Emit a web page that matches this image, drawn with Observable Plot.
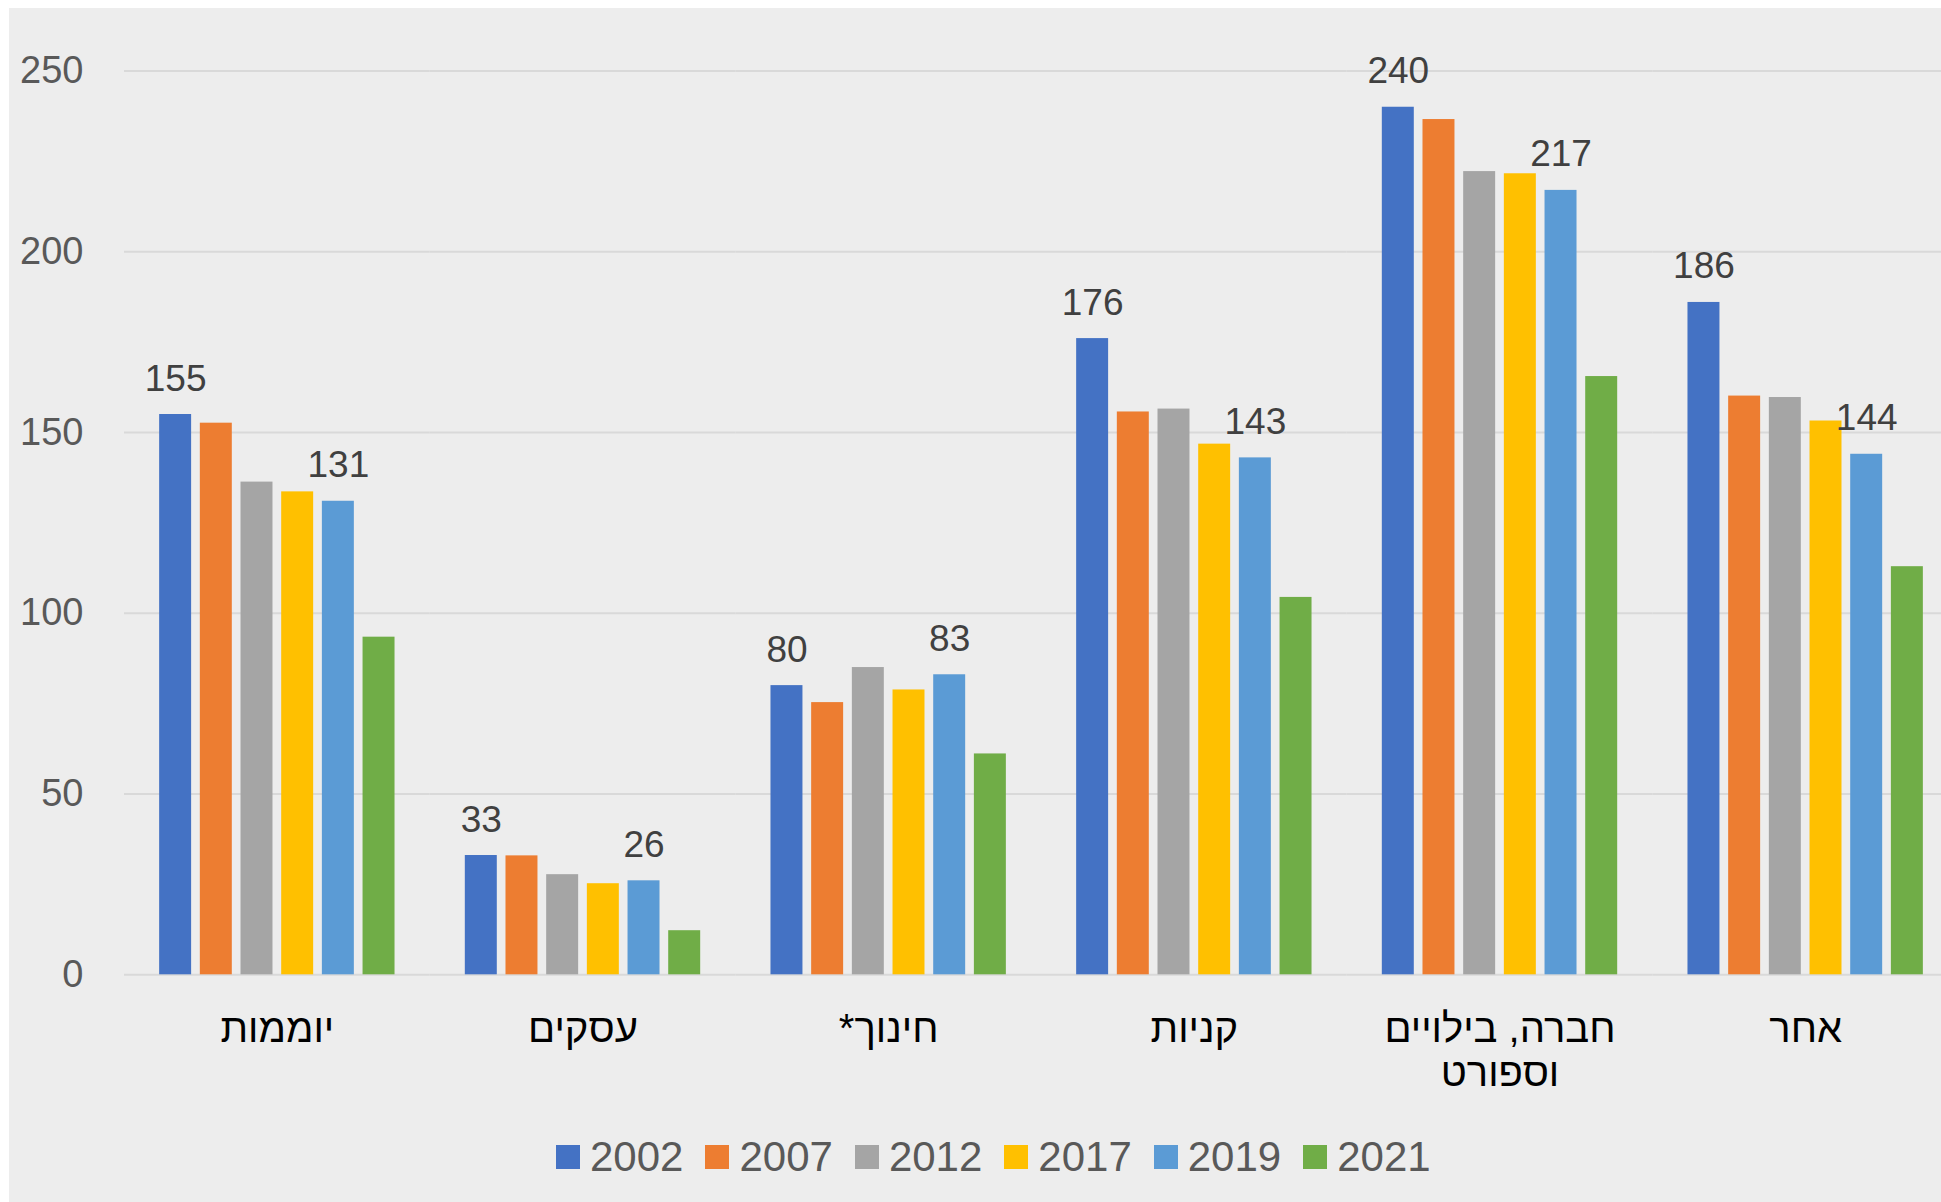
<!DOCTYPE html>
<html><head><meta charset="utf-8">
<script src="https://cdn.jsdelivr.net/npm/d3@7"></script>
<script src="https://cdn.jsdelivr.net/npm/@observablehq/plot@0.6"></script>
<style>
html,body{margin:0;padding:0;background:#fff;overflow:hidden;width:1941px;height:1202px;}
#bg{position:absolute;left:9px;top:8px;right:0;bottom:0;background:#ededed;}
#chart{position:absolute;left:0;top:0;}
#legend{position:absolute;left:556px;top:1133px;white-space:nowrap;}
.lg-swatches{font-family:"Liberation Sans",Arial,sans-serif !important;font-size:42px !important;color:#595959 !important;margin:0 !important;flex-wrap:nowrap !important;}
.lg-swatch{margin-right:22px !important;}
.lg-swatch > svg{margin-right:10px !important;}
</style></head><body>
<div id="bg"></div><div id="chart"></div><div id="legend"></div>
<script>
const categories = ["יוממות","עסקים","חינוך*","קניות","חברה, בילויים וספורט","אחר"];
const categoryLabels = ["יוממות","עסקים","חינוך*\u200F","קניות","חברה, בילויים\nוספורט","אחר"];
const years = ["2002","2007","2012","2017","2019","2021"];
const v2002 = [155, 33, 80, 176, 240, 186];
const v2007 = [152.6, 32.9, 75.3, 155.7, 236.6, 160.1];
const v2012 = [136.3, 27.7, 85.0, 156.5, 222.2, 159.7];
const v2017 = [133.6, 25.2, 78.8, 146.8, 221.6, 153.2];
const v2019 = [131, 26, 83, 143, 217, 144];
const v2021 = [93.4, 12.2, 61.1, 104.4, 165.5, 112.9];
const labelledYears = ["2002","2019"];
const yTicks = [0,50,100,150,200,250];
const colors = ["#4472C4","#ED7D31","#A5A5A5","#FFC000","#5B9BD5","#70AD47"];

const series = [v2002, v2007, v2012, v2017, v2019, v2021];
const data = [];
series.forEach((vals, i) => categories.forEach((c, j) => data.push({category: c, year: years[i], value: vals[j]})));
const labelOf = new Map(categories.map((c, i) => [c, categoryLabels[i]]));

const W = 1958, H = 1110, y0 = 974.3, yTop = 70.6;
const font = "'Liberation Sans', Arial, 'DejaVu Sans', sans-serif";
const chart = Plot.plot({
  width: W, height: H,
  marginLeft: 124, marginRight: 0, marginTop: yTop, marginBottom: H - y0,
  style: {background: "transparent", fontFamily: font, maxWidth: "none", overflow: "visible"},
  fx: {domain: categories, padding: 0, round: false, label: null},
  x: {domain: years, paddingInner: 0.214, paddingOuter: 0.864, round: false, axis: null},
  y: {domain: [0, 250], axis: null},
  color: {domain: years, range: colors},
  marks: [
    Plot.ruleY(yTicks, {stroke: "#d9d9d9", strokeWidth: 2}),
    Plot.axisY(yTicks, {tickSize: 0, tickPadding: 41, fontSize: 38, color: "#595959", label: null}),
    Plot.axisFx({anchor: "bottom", tickSize: 0, tickPadding: 35, fontSize: 40, color: "#000", lineHeight: 1.12, label: null, tickFormat: d => labelOf.get(d)}),
    Plot.barY(data, {fx: "category", x: "year", y: "value", fill: "year"}),
    Plot.text(data.filter(d => labelledYears.includes(d.year)), {fx: "category", x: "year", y: "value", text: d => d3.format(".0f")(d.value), lineAnchor: "bottom", dy: -24, fontSize: 37, fill: "#404040"})
  ]
});
document.getElementById("chart").appendChild(chart);

const legend = Plot.legend({color: {domain: years, range: colors}, legend: "swatches", swatchSize: 24, className: "lg"});
document.getElementById("legend").appendChild(legend);
</script>
</body></html>
